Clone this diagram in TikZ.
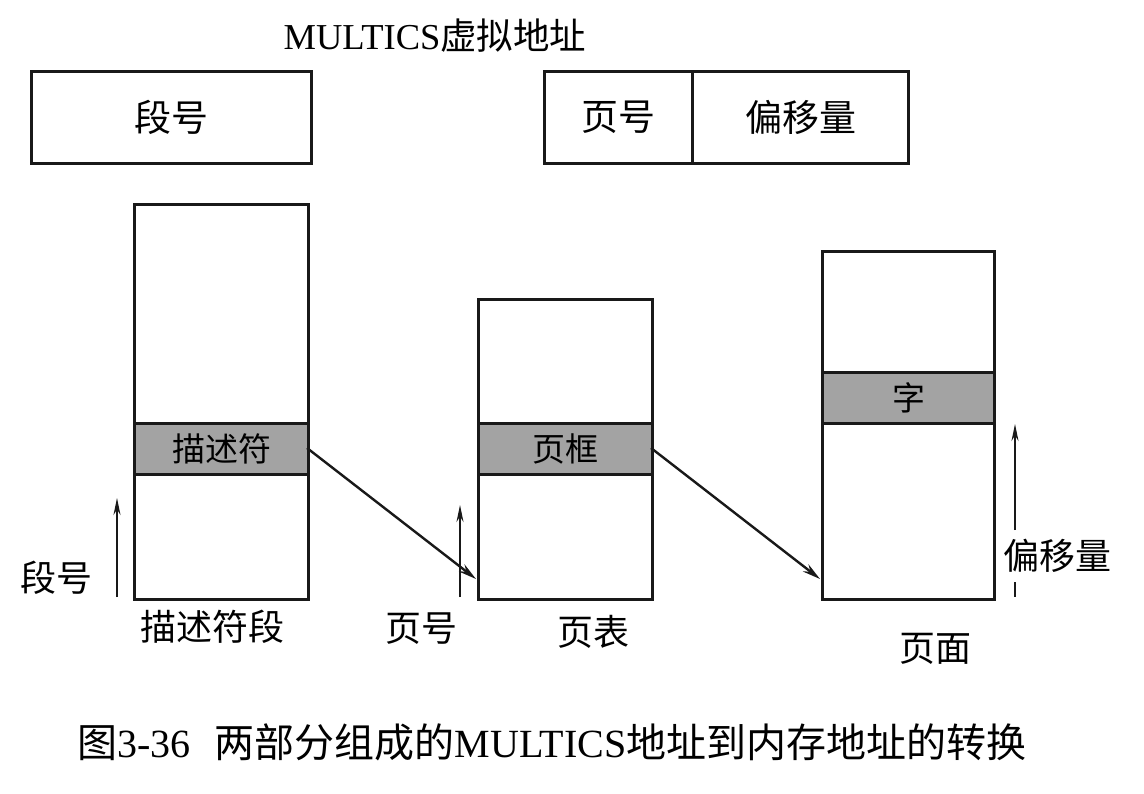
\documentclass[tikz,border=0pt]{standalone}
\usepackage{fontspec}
\setmainfont{Liberation Serif}
\newfontfamily\cjk{Noto Sans CJK SC}
\usetikzlibrary{arrows.meta}
\begin{document}
\begin{tikzpicture}[x=1pt,y=-1pt,
  box/.style={draw=black!90,line width=3pt},
  band/.style={draw=black!90,line width=3pt,fill=black!36},
  lbl/.style={font=\fontsize{36}{40}\selectfont\cjk,inner sep=0pt},
  blbl/.style={font=\fontsize{37}{40}\selectfont\cjk,inner sep=0pt},
  inlbl/.style={font=\fontsize{33}{36}\selectfont\cjk,inner sep=0pt},
  ptr/.style={draw=black!90,line width=2.4pt,-{Stealth[length=18pt,width=9pt]}},
  idx/.style={draw=black!90,line width=1.8pt,-{Stealth[length=17pt,width=7pt]}}]
\useasboundingbox[fill=white] (0,0) rectangle (1144,794);
% title
\node[inner sep=0pt,font=\fontsize{36.5}{40}\selectfont] (title) at (435,36) {MULTICS{\cjk 虚拟地址}};
% virtual address boxes
\node[box,minimum width=280pt,minimum height=92pt,anchor=north west] (seg) at (30,70) {};
\node[blbl] at (seg) {段号};
\node[box,minimum width=148pt,minimum height=92pt,anchor=north west] (pg) at (543,70) {};
\node[blbl] at (pg) {页号};
\node[box,minimum width=216pt,minimum height=92pt,anchor=north west] (off) at (691,70) {};
\node[blbl] at (off) {偏移量};
% descriptor segment
\node[box,minimum width=174pt,minimum height=395pt,anchor=north west] (ds) at (133,203) {};
\node[band,minimum width=174pt,minimum height=51pt,anchor=north west] (desc) at (133,422) {};
\node[inlbl] at (desc) {描述符};
\node[lbl] (dsl) at (212,627) {描述符段};
\coordinate (a1s) at (117,597);
\coordinate (a1e) at (117,498);
\draw[idx] (a1s) -- (a1e);
\node[lbl] (segl) at (56,578) {段号};
% page table
\node[box,minimum width=174pt,minimum height=300pt,anchor=north west] (pt) at (477,298) {};
\node[band,minimum width=174pt,minimum height=51pt,anchor=north west] (pf) at (477,422) {};
\node[inlbl] at (pf) {页框};
\node[lbl] (ptl) at (593,632) {页表};
\coordinate (a2s) at (460,597);
\coordinate (a2e) at (460,505);
\draw[idx] (a2s) -- (a2e);
\node[lbl] (pgl) at (421,629) {页号};
% page
\node[box,minimum width=172pt,minimum height=348pt,anchor=north west] (pgbox) at (821,250) {};
\node[band,minimum width=172pt,minimum height=51pt,anchor=north west] (word) at (821,371) {};
\node[inlbl] at (word) {字};
\node[lbl] (pagel) at (935,649) {页面};
\coordinate (a3s) at (1015,530);
\coordinate (a3e) at (1015,424);
\draw[idx] (a3s) -- (a3e);
\coordinate (t1) at (1015,582);
\coordinate (t2) at (1015,597);
\draw[draw=black!90,line width=1.8pt] (t1) -- (t2);
\node[lbl] (offl) at (1057,556) {偏移量};
% pointers
\coordinate (p1s) at (307,448);
\coordinate (p1e) at (476,579);
\draw[ptr] (p1s) -- (p1e);
\coordinate (p2s) at (651,448);
\coordinate (p2e) at (820,579);
\draw[ptr] (p2s) -- (p2e);
% caption
\node[inner sep=0pt,font=\fontsize{40}{44}\selectfont] (cap) at (552,742) {{\cjk 图}3-36\hspace{24pt}{\cjk 两部分组成的}MULTICS{\cjk 地址到内存地址的转换}};
\end{tikzpicture}
\end{document}
